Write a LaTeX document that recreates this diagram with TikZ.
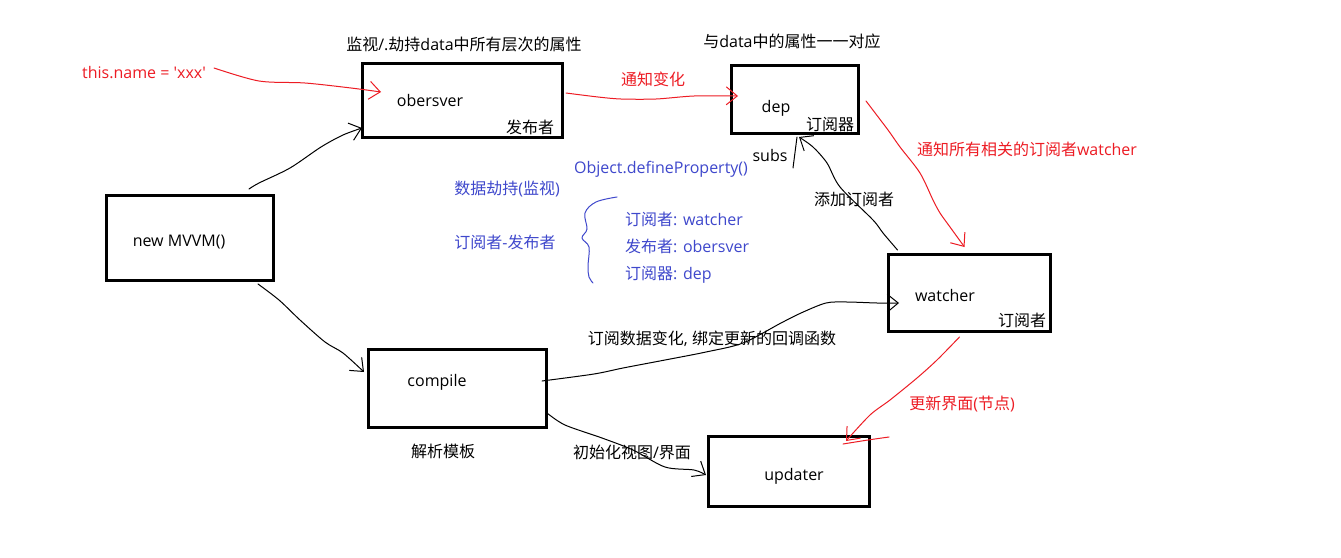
\documentclass[tikz,border=0pt]{standalone}
\usepackage{fontspec}
\newfontfamily\latfont{Open Sans}
\newfontfamily\zhfont{Noto Sans CJK SC}
\newcommand\zh[1]{{\zhfont #1}}
\usetikzlibrary{arrows.meta,calc}
\definecolor{pred}{RGB}{237,28,36}
\definecolor{pblue}{RGB}{63,72,204}
\tikzset{
  box/.style={draw, line width=3pt, inner sep=0pt},
  txt/.style={font=\latfont\fontsize{16}{19}\selectfont, inner sep=0pt,
              text height=12pt, text depth=0pt},
  wire/.style={line width=1pt, line cap=round, line join=round},
  tip/.style={-{Straight Barb[length=11pt,width=18pt]}},
}
\begin{document}
\begin{tikzpicture}[x=1pt,y=-1pt]
\fill[white] (0,0) rectangle (1341,557);
\useasboundingbox (0,0) rectangle (1341,557);

% boxes
\node[box, minimum width=200pt, minimum height=74pt] (obs)     at (462.5,100.5) {};
\node[box, minimum width=127pt, minimum height=68pt] (dep)     at (795,99.5) {};
\node[box, minimum width=167pt, minimum height=85pt] (mvvm)    at (190,238) {};
\node[box, minimum width=178pt, minimum height=78pt] (compile) at (457.5,388.5) {};
\node[box, minimum width=162pt, minimum height=77pt] (watcher) at (969.5,293) {};
\node[box, minimum width=161pt, minimum height=70pt] (updater) at (789,471.5) {};

% texts inside the boxes
\node[txt] (tobs)  at (430,100) {obersver};
\node[txt] (tpub)  at (530,127) {\zh{发布者}};
\node[txt] (tdep)  at (776,106) {dep};
\node[txt] (tdepc) at (830,124) {\zh{订阅器}};
\node[txt] (tmvvm) at (179,240) {new MVVM()};
\node[txt] (tcomp) at (437,380) {compile};
\node[txt] (twat)  at (945,295) {watcher};
\node[txt] (tsub)  at (1022,320) {\zh{订阅者}};
\node[txt] (tupd)  at (794,474) {updater};

% black captions
\node[txt] (cap1) at (464,44) {\zh{监视}/.\zh{劫持}data\zh{中所有层次的属性}};
\node[txt] (cap2) at (792,41) {\zh{与}data\zh{中的属性一一对应}};
\node[txt] (lsubs) at (770,155) {subs};
\node[txt] (ladd) at (854,199) {\zh{添加订阅者}};
\node[txt] (lbind) at (712,338) {\zh{订阅数据变化}, \zh{绑定更新的回调函数}};
\node[txt] (lparse) at (443,451) {\zh{解析模板}};
\node[txt] (linit) at (632,452) {\zh{初始化视图}/\zh{界面}};

% red captions
\node[txt, text=pred] (tn) at (144,72) {this.name = 'xxx'};
\node[txt, text=pred] (lnotify) at (653,79) {\zh{通知变化}};
\node[txt, text=pred] (lall) at (1027,149) {\zh{通知所有相关的订阅者}watcher};
\node[txt, text=pred] (lupd) at (962,403) {\zh{更新界面}(\zh{节点})};

% blue notes
\node[txt, text=pblue] (ndef) at (661,167) {Object.defineProperty()};
\node[txt, text=pblue] (nhij) at (507,188) {\zh{数据劫持}(\zh{监视})};
\node[txt, text=pblue] (npub) at (505,242) {\zh{订阅者}-\zh{发布者}};
\node[txt, text=pblue, anchor=west] (nl1) at (625,219) {\zh{订阅者}: watcher};
\node[txt, text=pblue, anchor=west] (nl2) at (625,246) {\zh{发布者}: obersver};
\node[txt, text=pblue, anchor=west] (nl3) at (625,273) {\zh{订阅器}: dep};
\draw[wire, pblue] plot[smooth, tension=0.6] coordinates
  {(617,197) (596,202) (585,213) (587,229) (582,238) (589,247) (588,266) (589,277) (593,283)};

% connector end points
\coordinate (s1) at ($(tn.east)+(8,-4)$);
\coordinate (e1) at ($(obs.west)+(20,-8.5)$);
\coordinate (s2) at ($(mvvm.north)+(59,-5)$);
\coordinate (e2) at ($(obs.south west)+(1,-11)$);
\coordinate (s3) at ($(obs.east)+(2,-7.5)$);
\coordinate (e3) at ($(dep.west)+(8,-3.5)$);
\coordinate (s4) at ($(dep.east)+(6,1.5)$);
\coordinate (e4) at ($(watcher.north)+(-5,-6)$);
\coordinate (s5) at ($(watcher.north)+(-72,-3)$);
\coordinate (e5) at ($(dep.south)+(4,2)$);
\coordinate (s6) at ($(dep.south)+(2,2)$);
\coordinate (f6) at ($(dep.south)+(-2,33)$);
\coordinate (s7) at ($(mvvm.south)+(68,2)$);
\coordinate (e7) at ($(compile.west)+(-3,-16.5)$);
\coordinate (s8) at ($(compile.east)+(-6,-7.5)$);
\coordinate (e8) at ($(watcher.west)+(12,10)$);
\coordinate (s9) at ($(compile.east)+(-1,24.5)$);
\coordinate (e9) at ($(updater.west)+(-1,3.5)$);
\coordinate (s10) at ($(watcher.south)+(-10,4)$);
\coordinate (e10) at ($(updater.north east)+(-25,6)$);

% red connectors
\draw[wire, pred, tip] plot[smooth] coordinates {(s1) (259,81) (305,83) (351,88) (e1)};
\draw[wire, pred, tip] plot[smooth] coordinates {(s3) (598,97) (621,99) (656,99) (694,96) (e3)};
\draw[wire, pred, tip] plot[smooth] coordinates {(s4) (888,130) (900,147) (920,173) (933,200) (940,213) (950,227) (e4)};
\draw[wire, pred, tip] plot[smooth] coordinates {(s10) (937,360) (917,378) (890,400) (870,415) (e10)};
\draw[wire, pred] plot[smooth] coordinates {($(e10)+(-3,3)$) (868,440) ($(e10)+(43,-4)$)};

% black connectors
\draw[wire, tip] plot[smooth] coordinates {(s2) (259,183) (290,168) (321,147) (343,135) (e2)};
\draw[wire, tip] plot[smooth] coordinates {(s5) (883,233) (873,220) (840,187) (827,163) (813,147) (e5)};
\draw[wire] (s6) -- (f6);
\draw[wire, tip] plot[smooth] coordinates {(s7) (279,300) (300,320) (325,342) (343,353) (e7)};
\draw[wire, tip] plot[smooth] coordinates {(s8) (594,374) (623,368) (665,360) (706,352) (743,343) (781,323) (801,313) (826,303) (847,302) (877,303) (e8)};
\draw[wire, tip] plot[smooth] coordinates {(s9) (565,425) (602,438) (633,450) (665,467) (694,470) (e9)};
\end{tikzpicture}
\end{document}
